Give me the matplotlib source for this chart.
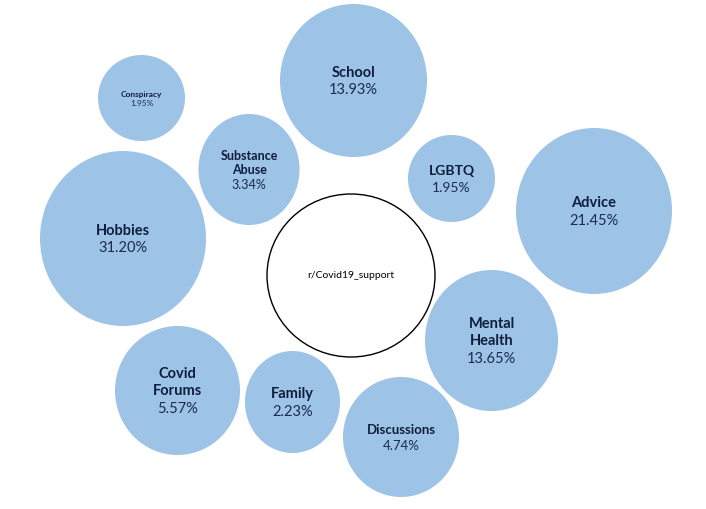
import matplotlib
matplotlib.use("Agg")
import matplotlib.pyplot as plt
from matplotlib.patches import Ellipse

# Data
categories = ["Hobbies", "Advice", "School", "Mental\nHealth", "Covid\nForums",
              "Discussions", "Substance\nAbuse", "Family", "LGBTQ", "Conspiracy"]
shares = [31.20, 21.45, 13.93, 13.65, 5.57, 4.74, 3.34, 2.23, 1.95, 1.95]
center_label = "r/Covid19_support"

# Layout (pixel coordinates of bubble centres and radii)
cx = [123, 594, 353.5, 491.5, 177.5, 401, 249, 292.5, 451.5, 141.5]
cy = [239.5, 212, 81.5, 341.5, 391.5, 438, 170.5, 403, 179.5, 99]
rx = [83, 78, 73.5, 66.5, 62.5, 58, 50.5, 47.5, 43.5, 43.5]
ry = [87.5, 83, 76.5, 70.5, 64.5, 60, 55.5, 51, 43.5, 43]
fs = [10.5, 10.5, 10.5, 10.5, 10.5, 9.5, 9, 10.5, 10, 6]

fill = "#9dc3e6"
name_col = "#0f1e3d"
pct_col = "#1c2b4f"

fig = plt.figure(figsize=(7.06, 5.10), dpi=100)
ax = fig.add_axes([0, 0, 1, 1])
ax.set_xlim(0, 706)
ax.set_ylim(510, 0)
ax.axis("off")

for name, val, x, y, a, b, f in zip(categories, shares, cx, cy, rx, ry, fs):
    ax.add_patch(Ellipse((x, y), 2 * a, 2 * b, facecolor=fill, edgecolor="none"))
    nlines = name.count("\n") + 1
    lh = f * 1.65
    total = nlines + 1
    top = y - (total - 1) * lh / 2
    for i, line in enumerate(name.split("\n")):
        ax.text(x, top + i * lh, line, ha="center", va="center", fontsize=f,
                fontweight="bold", color=name_col, family="Lato")
    ax.text(x, top + nlines * lh, f"{val:.2f}%", ha="center", va="center",
            fontsize=f, color=pct_col, family="Lato")

ax.add_patch(Ellipse((351, 276.5), 168, 163, facecolor="white",
                     edgecolor="black", linewidth=1.0))
ax.text(351, 276, center_label, ha="center", va="center", fontsize=7.5,
        color="black", family="Lato")

fig.savefig("out.png", dpi=100)
